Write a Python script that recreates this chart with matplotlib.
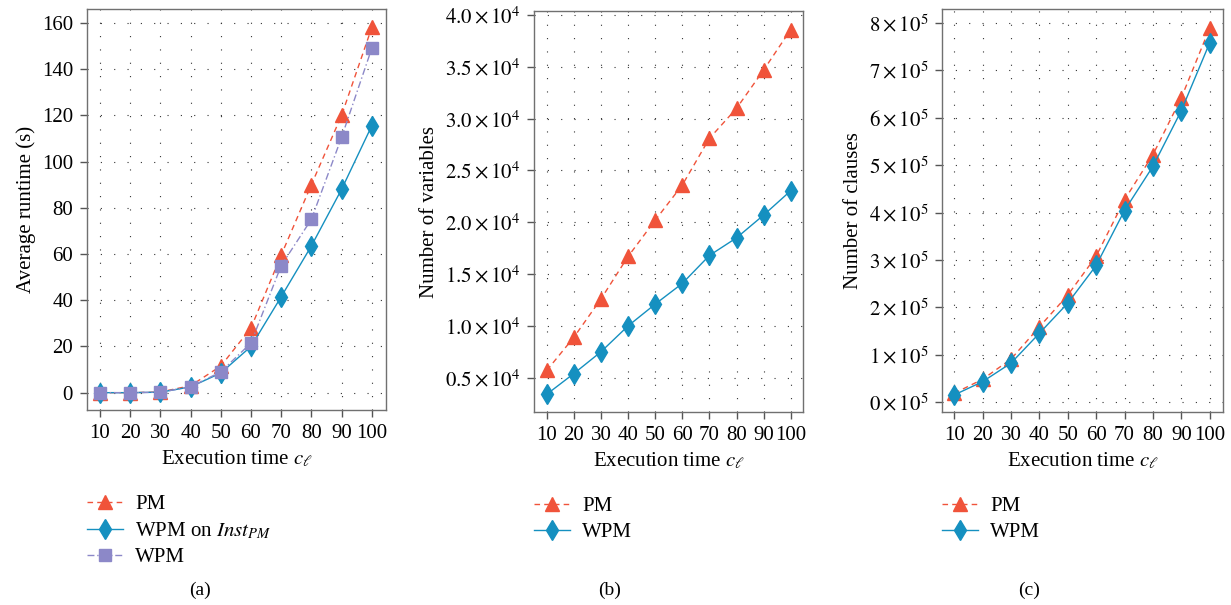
import numpy as np
import matplotlib.pyplot as plt

plt.rcParams['font.family'] = ['Liberation Serif', 'DejaVu Serif']
plt.rcParams['mathtext.fontset'] = 'stix'

x = [10, 20, 30, 40, 50, 60, 70, 80, 90, 100]

# (a) average runtime (s)
rt_pm = [0, 0, 0.3, 3, 11.5, 28, 59.5, 90, 120, 158]
rt_wpm_inst = [0, 0, 0.2, 2.5, 8.5, 20, 41.5, 63.5, 88, 115.5]
rt_wpm = [0, 0, 0.2, 2.5, 9, 21.5, 55, 75, 110.5, 149]

# (b) number of variables
var_pm = [5700, 8900, 12600, 16700, 20200, 23600, 28100, 31000, 34700, 38600]
var_wpm = [3400, 5400, 7500, 10000, 12100, 14100, 16800, 18500, 20700, 23050]

# (c) number of clauses
cl_pm = [19000, 48500, 91000, 159000, 226000, 308000, 427000, 522000, 642000, 789000]
cl_wpm = [15500, 43500, 82500, 145500, 209000, 288500, 404500, 497500, 615000, 758000]

RED = '#F0533A'
BLUE = '#1590C0'
PURPLE = '#8C88C8'

W, H = 1231, 605
fig = plt.figure(figsize=(W / 100, H / 100), dpi=100)

fs = 15


def make_ax(l, t, r, b):
    ax = fig.add_axes([l / W, 1 - b / H, (r - l) / W, (b - t) / H])
    for s in ax.spines.values():
        s.set_color('#707070')
        s.set_linewidth(1.0)
    ax.tick_params(direction='out', length=5, width=1, color='#555555',
                   labelsize=fs, pad=5)
    ax.set_xticks(x)
    ax.grid(True, color='#333333', linestyle=(0, (1, 11)), linewidth=0.8)
    ax.set_axisbelow(True)
    return ax


# (a)
ax1 = make_ax(87, 9, 386, 410)
ax1.plot(x, rt_pm, color=RED, ls=(0, (4, 3)), lw=1, marker='^', ms=10, label='PM')
ax1.plot(x, rt_wpm_inst, color=BLUE, ls='-', lw=1, marker='d', ms=10,
         label=r'WPM on $\mathit{Inst}_{\mathit{PM}}$')
ax1.plot(x, rt_wpm, color=PURPLE, ls=(0, (5, 2, 1, 2)), lw=1, marker='s', ms=8.5,
         label='WPM')
ax1.set_xlim(5.7, 104.7)
ax1.set_ylim(-7.5, 166)
ax1.set_yticks(range(0, 161, 20))
ax1.set_ylabel('Average runtime (s)', fontsize=fs)
ax1.set_xlabel(r'Execution time $c_\ell$', fontsize=fs)

# (b)
ax2 = make_ax(534, 11, 803, 412)
ax2.plot(x, var_pm, color=RED, ls=(0, (4, 3)), lw=1, marker='^', ms=10, label='PM')
ax2.plot(x, var_wpm, color=BLUE, ls='-', lw=1, marker='d', ms=10, label='WPM')
ax2.set_xlim(5.3, 104.5)
ax2.set_ylim(1690, 40390)
bt = np.arange(5000, 40001, 5000)
ax2.set_yticks(bt)
ax2.set_yticklabels([r'$%.1f\times10^{4}$' % (v / 1e4) for v in bt])
ax2.set_ylabel('Number of variables', fontsize=fs)
ax2.set_xlabel(r'Execution time $c_\ell$', fontsize=fs)

# (c)
ax3 = make_ax(942, 9, 1223, 412)
ax3.plot(x, cl_pm, color=RED, ls=(0, (4, 3)), lw=1, marker='^', ms=10, label='PM')
ax3.plot(x, cl_wpm, color=BLUE, ls='-', lw=1, marker='d', ms=10, label='WPM')
ax3.set_xlim(5.7, 104.7)
ax3.set_ylim(-20500, 829500)
ct = np.arange(0, 800001, 100000)
ax3.set_yticks(ct)
ax3.set_yticklabels([r'$%d\times10^{5}$' % (v / 1e5) for v in ct])
ax3.set_ylabel('Number of clauses', fontsize=fs)
ax3.set_xlabel(r'Execution time $c_\ell$', fontsize=fs)

for ax in (ax1, ax2, ax3):
    w = ax.get_position().width * W
    ax.legend(loc='upper left', bbox_to_anchor=(-8 / w, -0.19), frameon=False,
              fontsize=fs, handlelength=1.7, handletextpad=0.6,
              labelspacing=0.3, borderaxespad=0)

fig.text(200 / W, 1 - 590 / H, '(a)', ha='center', va='center', fontsize=14)
fig.text(610 / W, 1 - 590 / H, '(b)', ha='center', va='center', fontsize=14)
fig.text(1029 / W, 1 - 590 / H, '(c)', ha='center', va='center', fontsize=14)

fig.savefig('out.png', dpi=100)
